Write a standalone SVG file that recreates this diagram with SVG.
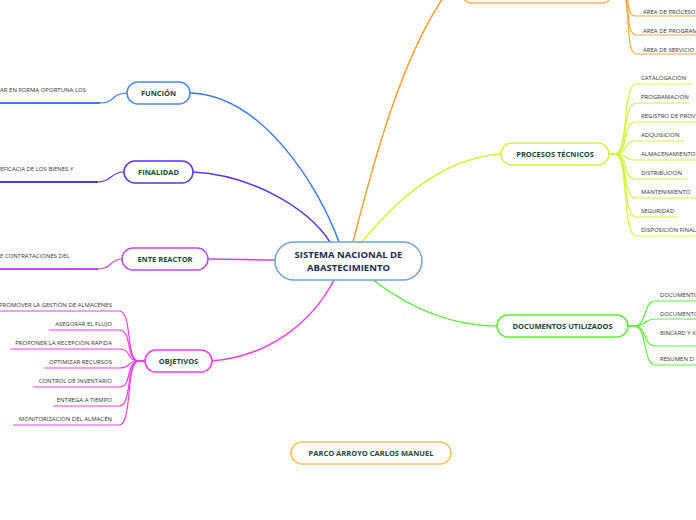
<svg xmlns="http://www.w3.org/2000/svg" width="696" height="520" viewBox="0 0 696 520">
<style>
.node rect{fill:#fff;stroke-width:1.5}
.lbl{font-family:"Open Sans","Liberation Sans",sans-serif;font-weight:bold;font-size:7.5px;fill:#16483a;text-anchor:middle}
.root{font-family:"Open Sans","Liberation Sans",sans-serif;font-weight:bold;font-size:9.5px;fill:#1b2a4e;text-anchor:middle}
.sm{font-family:"Open Sans","Liberation Sans",sans-serif;font-size:6px;fill:#333}
.c{fill:none;stroke-width:1.5}
.u{fill:none;stroke-width:1.2}
</style>
<rect width="696" height="520" fill="#fff"/>
<g id="connectors">
  <path class="c" stroke="#3a7bf0" d="M190,93 C262,95 318,185 339,242"/>
  <path class="c" stroke="#5a35e6" d="M193,172 C252,175 308,208 330,242"/>
  <path class="c" stroke="#c048f0" d="M208,259 C240,259 250,260 275,260"/>
  <path class="c" stroke="#f03ce8" d="M212,361 C270,356 312,322 334,280"/>
  <path class="c" stroke="#ff9d2a" d="M353,242 C372,168 400,60 445,-5"/>
  <path class="c" stroke="#d2f23a" d="M362,242 C392,205 440,158 501,154"/>
  <path class="c" stroke="#5bef3a" d="M373,280 C402,302 445,326 497,326"/>
  <path class="u" stroke="#3a7bf0" d="M127,93 C112,93 115,103 100,103"/>
  <path fill="none" stroke="#3a7bf0" stroke-width="2" d="M100,103 H0"/>
  <path class="u" stroke="#5a35e6" d="M124,172 C110,172 112,182 98,182"/>
  <path fill="none" stroke="#5a35e6" stroke-width="2" d="M98,182 H0"/>
  <path class="u" stroke="#c048f0" d="M122,259 C110,259 112,269 98,269"/>
  <path fill="none" stroke="#c048f0" stroke-width="2" d="M98,269 H0"/>
  <g stroke="#f03ce8" class="u">
    <path d="M145,361 H139 C125,361 133,311 119,311 H0"/>
    <path d="M145,361 H139 C125,361 133,330 119,330 H49"/>
    <path d="M145,361 H139 C125,361 133,349 119,349 H10"/>
    <path d="M145,361 H139 C125,361 133,368 119,368 H44"/>
    <path d="M145,361 H139 C125,361 133,387 119,387 H33"/>
    <path d="M145,361 H139 C125,361 133,406 119,406 H53"/>
    <path d="M145,361 H139 C125,361 133,425 119,425 H13"/>
  </g>
  <g stroke="#ffa43a" class="u">
    <path d="M612,-10 H620 C632,-10 624,16 636,16 H696"/>
    <path d="M612,-10 H620 C632,-10 624,35 636,35 H696"/>
    <path d="M612,-10 H620 C632,-10 624,54 636,54 H696"/>
  </g>
  <g stroke="#d2f23a" class="u">
    <path d="M609,154 H615 C629,154 622,84 636,84 H692"/>
    <path d="M609,154 H615 C629,154 622,103 636,103 H690"/>
    <path d="M609,154 H615 C629,154 622,122 636,122 H696"/>
    <path d="M609,154 H615 C629,154 622,141 636,141 H684"/>
    <path d="M609,154 H615 C629,154 622,160 636,160 H696"/>
    <path d="M609,154 H615 C629,154 622,179 636,179 H687"/>
    <path d="M609,154 H615 C629,154 622,198 636,198 H696"/>
    <path d="M609,154 H615 C629,154 622,217 636,217 H679"/>
    <path d="M609,154 H615 C629,154 622,236 636,236 H696"/>
  </g>
  <g stroke="#5bef3a" class="u">
    <path d="M628,326 H634 C648,326 642,301 656,301 H696"/>
    <path d="M628,326 H634 C648,326 642,319 656,319 H696"/>
    <path d="M628,326 H634 C648,326 642,346 656,346 H696"/>
    <path d="M628,326 H634 C648,326 642,365 656,365 H696"/>
  </g>
</g>
<g id="root" class="node">
  <rect x="275" y="242" width="147" height="38" rx="19" stroke="#6aa3d8"/>
  <text class="root" x="348.5" y="258">SISTEMA NACIONAL DE</text>
  <text class="root" x="348.5" y="271">ABASTECIMIENTO</text>
</g>
<g id="funcion" class="node">
  <rect x="127" y="82" width="63" height="22" rx="11" stroke="#4a88f2"/>
  <text class="lbl" x="158.5" y="96">FUNCIÓN</text>
  <text class="sm" x="0" y="92">AR EN FORMA OPORTUNA LOS</text>
</g>
<g id="finalidad" class="node">
  <rect x="124" y="161" width="69" height="22" rx="11" stroke="#5a35e6"/>
  <text class="lbl" x="158.5" y="175">FINALIDAD</text>
  <text class="sm" x="0" y="171">EFICACIA DE LOS BIENES Y</text>
</g>
<g id="ente" class="node">
  <rect x="122" y="248" width="86" height="22" rx="11" stroke="#c048f0"/>
  <text class="lbl" x="165" y="262">ENTE REACTOR</text>
  <text class="sm" x="0" y="258">E CONTRATACIONES DEL</text>
</g>
<g id="objetivos" class="node">
  <rect x="145" y="350" width="67" height="22" rx="11" stroke="#f03ce8"/>
  <text class="lbl" x="178.5" y="364">OBJETIVOS</text>
  <g class="sm" text-anchor="end">
    <text x="112" y="307">PROMOVER LA GESTIÓN DE ALMACENES</text>
    <text x="112" y="326">ASEGURAR EL FLUJO</text>
    <text x="112" y="345">PROPONER LA RECEPCIÓN RÁPIDA</text>
    <text x="112" y="364">OPTIMIZAR RECURSOS</text>
    <text x="112" y="383">CONTROL DE INVENTARIO</text>
    <text x="112" y="402">ENTREGA A TIEMPO</text>
    <text x="112" y="421">MONITORIZACIÓN DEL ALMACÉN</text>
  </g>
</g>
<g id="areas" class="node">
  <rect x="462" y="-19" width="150" height="22" rx="10" stroke="#ffb04a"/>
  <g class="sm">
    <text x="643" y="14">ÁREA DE PROCESO</text>
    <text x="643" y="33">ÁREA DE PROGRAM</text>
    <text x="643" y="52">ÁREA DE SERVICIO</text>
  </g>
</g>
<g id="procesos" class="node">
  <rect x="501" y="143" width="108" height="22" rx="11" stroke="#d2f23a"/>
  <text class="lbl" x="555" y="157">PROCESOS TÉCNICOS</text>
  <g class="sm">
    <text x="641" y="80">CATALOGACIÓN</text>
    <text x="641" y="99">PROGRAMACIÓN</text>
    <text x="641" y="118">REGISTRO DE PROVE</text>
    <text x="641" y="137">ADQUISICIÓN</text>
    <text x="641" y="156">ALMACENAMIENTO</text>
    <text x="641" y="175">DISTRIBUCIÓN</text>
    <text x="641" y="194">MANTENIMIENTO</text>
    <text x="641" y="213">SEGURIDAD</text>
    <text x="641" y="232">DISPOSICIÓN FINAL</text>
  </g>
</g>
<g id="documentos" class="node">
  <rect x="497" y="315" width="131" height="22" rx="11" stroke="#5bef3a"/>
  <text class="lbl" x="562.5" y="329">DOCUMENTOS UTILIZADOS</text>
  <g class="sm">
    <text x="660" y="297">DOCUMENTO</text>
    <text x="660" y="316">DOCUMENTO</text>
    <text x="660" y="335">BINCARD Y K</text>
    <text x="660" y="361">RESUMEN D</text>
  </g>
</g>
<g id="autor" class="node">
  <rect x="291" y="442" width="160" height="22" rx="11" stroke="#fbbf5a"/>
  <text class="lbl" x="371" y="456">PARCO ARROYO CARLOS MANUEL</text>
</g>
</svg>
